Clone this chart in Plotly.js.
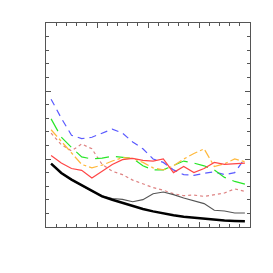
<!DOCTYPE html>
<html>
<head>
<meta charset="utf-8">
<script src="https://cdn.plot.ly/plotly-3.0.1.min.js"></script>
<style>html,body{margin:0;padding:0;background:#fff;}#chart{width:273px;height:273px;}</style>
</head>
<body>
<div id="chart"></div>
<script>
const xVals = [0.5,1.5,2.5,3.5,4.5,5.5,6.5,7.5,8.5,9.5,10.5,11.5,12.5,13.5,14.5,15.5,16.5,17.5,18.5,19.5];
const blackThick = [4.66,3.97,3.48,3.06,2.62,2.25,2.0,1.76,1.52,1.32,1.15,1.0,0.86,0.76,0.69,0.59,0.51,0.47,0.44,0.42];
const grayThin = [4.66,3.97,3.48,3.06,2.62,2.3,2.1,2.03,1.86,2.01,2.45,2.57,2.38,2.13,1.94,1.72,1.23,1.18,1.03,1.03];
const blueDash = [9.4,8.0,6.75,6.5,6.6,6.9,7.2,6.9,6.25,5.75,5.0,4.75,4.2,3.85,3.8,3.95,4.05,3.85,4.0,5.05];
const greenDash = [7.95,6.6,5.85,5.15,5.0,5.07,5.2,5.15,5.05,4.5,4.2,4.2,4.55,4.85,4.7,4.5,4.2,3.65,3.35,3.15];
const orangeDashDot = [7.15,6.3,5.5,4.6,4.35,4.55,4.85,5.1,5.05,4.75,4.35,4.2,4.5,5.0,5.4,5.75,4.45,4.65,5.0,4.8];
const redSolid = [5.25,4.7,4.3,4.17,3.6,4.1,4.6,4.95,5.05,4.9,4.85,5.0,4.0,4.45,4.0,4.3,4.75,4.6,4.65,4.7];
const pinkDot = [6.9,6.05,5.6,6.1,5.75,4.6,4.1,3.85,3.45,3.15,2.9,2.7,2.45,2.3,2.35,2.25,2.35,2.5,2.8,2.62];

const mk = (y, color, width, dash) => ({x: xVals, y: y, type: 'scatter', mode: 'lines',
  line: {color: color, width: width, dash: dash}, hoverinfo: 'skip', showlegend: false});

const data = [
  mk(pinkDot, 'rgb(222,130,130)', 1.2, 'dot'),
  mk(blueDash, 'rgb(90,90,255)', 1.2, '7px,5px'),
  mk(greenDash, 'rgb(40,230,40)', 1.2, '14px,7px'),
  mk(orangeDashDot, 'rgb(255,185,60)', 1.2, 'dashdot'),
  mk(redSolid, 'rgb(255,70,70)', 1.2, 'solid'),
  mk(grayThin, 'rgb(85,85,85)', 1.1, 'solid'),
  mk(blackThick, 'rgb(0,0,0)', 2.5, 'solid')
];

const axisCommon = {
  showgrid: false, zeroline: false, showticklabels: false,
  showline: true, linecolor: '#555', linewidth: 1, mirror: 'ticks',
  ticks: 'inside', ticklen: 5, tickcolor: '#555', tickwidth: 1
};

const layout = {
  width: 273, height: 273,
  margin: {l: 46, r: 23, t: 23, b: 46},
  paper_bgcolor: '#fff', plot_bgcolor: '#fff',
  showlegend: false,
  xaxis: Object.assign({}, axisCommon, {range: [0, 20], dtick: 5, tick0: 0,
    minor: {dtick: 1, tick0: 0, ticks: 'inside', ticklen: 3, tickcolor: '#555', showgrid: false}}),
  yaxis: Object.assign({}, axisCommon, {range: [0, 15], dtick: 5, tick0: 0,
    minor: {dtick: 1, tick0: 0, ticks: 'inside', ticklen: 3, tickcolor: '#555', showgrid: false}})
};

Plotly.newPlot('chart', data, layout, {staticPlot: true, displayModeBar: false});
</script>
</body>
</html>
